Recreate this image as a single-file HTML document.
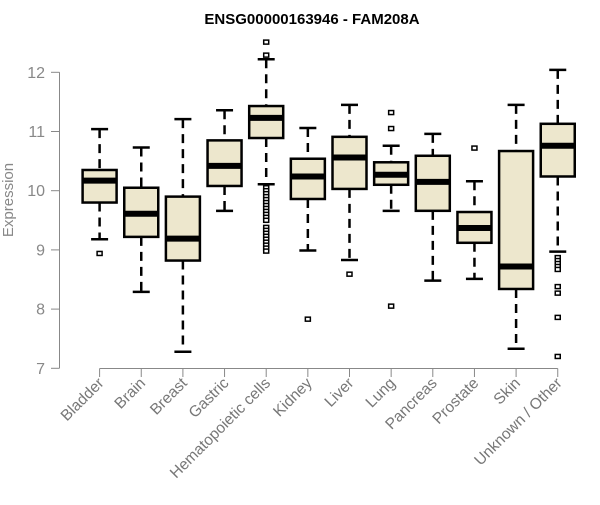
<!DOCTYPE html>
<html><head><meta charset="utf-8"><style>
body{margin:0;background:#fff;width:600px;height:500px;overflow:hidden}
svg text{font-family:"Liberation Sans",Arial,sans-serif}
</style></head><body>
<svg id="chart" width="600" height="500">
<text x="312" y="24" text-anchor="middle" font-weight="bold" font-size="15" fill="#000">ENSG00000163946 - FAM208A</text>
<text transform="translate(13,200) rotate(-90)" text-anchor="middle" font-size="15" fill="#888">Expression</text>
<g id="axes"></g><g id="boxes"></g>
</svg>
<script>
const categories=["Bladder","Brain","Breast","Gastric","Hematopoietic cells","Kidney","Liver","Lung","Pancreas","Prostate","Skin","Unknown / Other"];
const whiskerLow=[9.18,8.29,7.28,9.66,10.11,8.99,8.83,9.66,8.48,8.51,7.33,8.97];
const q1=[9.80,9.22,8.82,10.08,10.89,9.86,10.03,10.10,9.66,9.12,8.34,10.24];
const median=[10.17,9.61,9.19,10.42,11.23,10.24,10.56,10.27,10.15,9.37,8.72,10.76];
const q3=[10.35,10.05,9.90,10.85,11.43,10.54,10.91,10.48,10.59,9.64,10.67,11.13];
const whiskerHigh=[11.04,10.73,11.21,11.36,12.22,11.06,11.45,10.76,10.96,10.16,11.45,12.04];
const outliers=[[8.94],[],[],[],[12.51,12.29,10.05,10.0,9.95,9.9,9.85,9.8,9.75,9.7,9.65,9.6,9.55,9.5,9.38,9.33,9.28,9.23,9.18,9.13,9.08,9.03,8.98],[7.83],[8.59],[11.32,11.05,8.05],[],[10.72],[],[8.87,8.82,8.77,8.72,8.67,8.38,8.27,7.86,7.20]];
const yTicks=[7,8,9,10,11,12];
const NS="http://www.w3.org/2000/svg";
function y(v){return 368.3-(v-7)*59.2;}
function x(i){return 99.6+41.65*i;}
function mk(tag,attrs,parent){const e=document.createElementNS(NS,tag);for(const k in attrs)e.setAttribute(k,attrs[k]);parent.appendChild(e);return e;}
const ax=document.getElementById('axes');
const yl=mk('line',{x1:59.5,x2:59.5,y1:y(12),y2:y(7),stroke:'#888','stroke-width':1},ax);


yTicks.forEach(t=>{
  mk('line',{x1:51,x2:59.5,y1:y(t),y2:y(t),stroke:'#888'},ax);
  const tx=mk('text',{x:45,y:y(t)+5.5,'text-anchor':'end','font-size':16,fill:'#888'},ax);
  tx.textContent=t;
  
  
});
const xl=mk('line',{x1:x(0),x2:x(categories.length-1),y1:368.5,y2:368.5,stroke:'#888'},ax);


const bx=document.getElementById('boxes');
categories.forEach((c,i)=>{
  const cx=x(i),hw=17,cw=8.5;
  mk('line',{x1:cx,x2:cx,y1:368.5,y2:377,stroke:'#888'},ax);
  const lt=mk('text',{x:0,y:0,'text-anchor':'end','font-size':15.5,fill:'#777',transform:`translate(${cx+5},${384}) rotate(-45)`},ax);
  lt.textContent=c;
  
  
  const g=mk('g',{},bx);
  
  
  mk('line',{x1:cx,x2:cx,y1:y(whiskerHigh[i]),y2:y(q3[i]),stroke:'#000','stroke-width':2.5,'stroke-dasharray':'9,6'},g);
  mk('line',{x1:cx,x2:cx,y1:y(q1[i]),y2:y(whiskerLow[i]),stroke:'#000','stroke-width':2.5,'stroke-dasharray':'9,6'},g);
  mk('line',{x1:cx-cw,x2:cx+cw,y1:y(whiskerHigh[i]),y2:y(whiskerHigh[i]),stroke:'#000','stroke-width':2.5},g);
  mk('line',{x1:cx-cw,x2:cx+cw,y1:y(whiskerLow[i]),y2:y(whiskerLow[i]),stroke:'#000','stroke-width':2.5},g);
  mk('rect',{x:cx-hw,y:y(q3[i]),width:hw*2,height:y(q1[i])-y(q3[i]),fill:'#ede7cd',stroke:'#000','stroke-width':2.5},g);
  mk('line',{x1:cx-hw,x2:cx+hw,y1:y(median[i]),y2:y(median[i]),stroke:'#000','stroke-width':6},g);
  outliers[i].forEach(o=>{
    const p=mk('rect',{x:cx-2.5,y:y(o)-2,width:5,height:4,fill:'#fff',stroke:'#000','stroke-width':1.5},g);
    
    
  });
});
</script>
</body></html>
